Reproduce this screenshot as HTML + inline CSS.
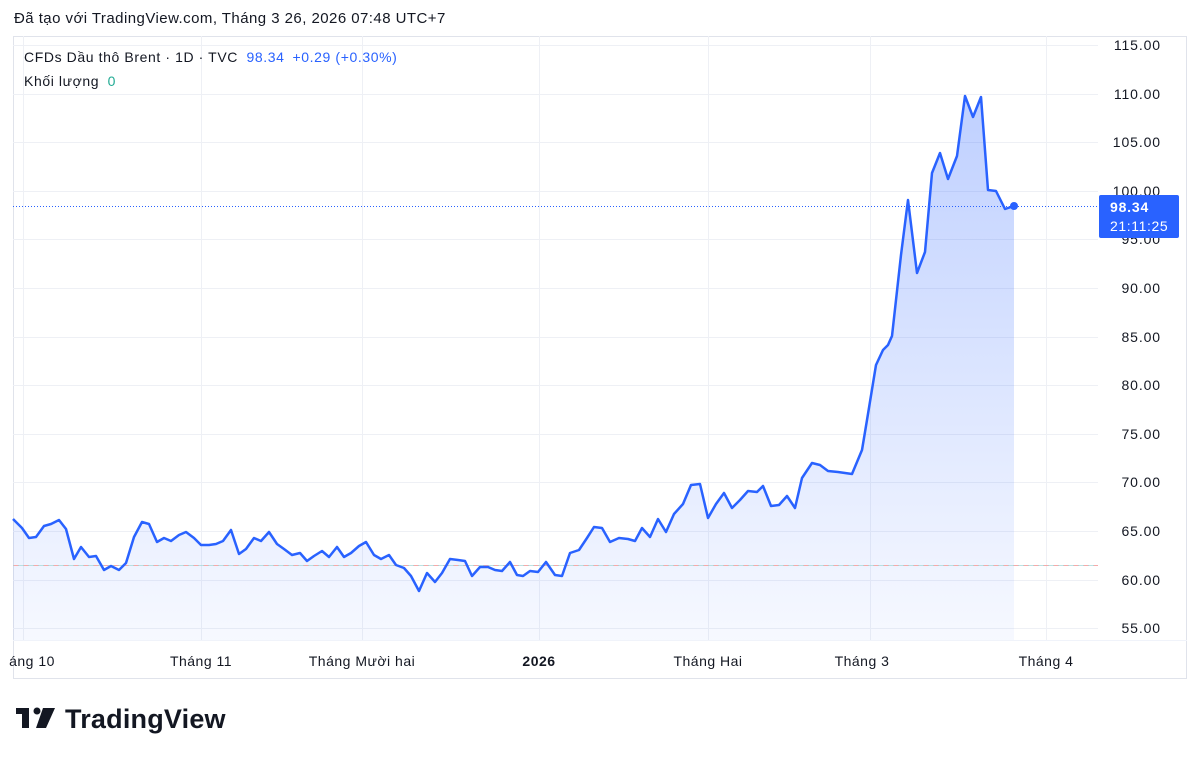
<!DOCTYPE html>
<html><head><meta charset="utf-8"><style>
body{margin:0;background:#fff;width:1200px;height:759px;overflow:hidden;font-family:"Liberation Sans",sans-serif;}
</style></head><body>
<svg width="1200" height="759" xmlns="http://www.w3.org/2000/svg" font-family="Liberation Sans, sans-serif">
<defs><linearGradient id="g" x1="0" y1="0" x2="0" y2="1">
<stop offset="0" stop-color="#2962ff" stop-opacity="0.3"/><stop offset="1" stop-color="#2962ff" stop-opacity="0.04"/></linearGradient></defs>
<text x="14" y="23" font-size="15" letter-spacing="0.45" fill="#131722">Đã tạo với TradingView.com, Tháng 3 26, 2026 07:48 UTC+7</text>
<rect x="13.5" y="36.5" width="1173" height="642" fill="none" stroke="#e0e3eb"/>
<line x1="13" y1="640.5" x2="1187" y2="640.5" stroke="#f0f3fa"/>
<g stroke="#eef0f5">
<line x1="13" x2="1098" y1="45.5" y2="45.5"/><line x1="13" x2="1098" y1="94.5" y2="94.5"/><line x1="13" x2="1098" y1="142.5" y2="142.5"/><line x1="13" x2="1098" y1="191.5" y2="191.5"/><line x1="13" x2="1098" y1="239.5" y2="239.5"/><line x1="13" x2="1098" y1="288.5" y2="288.5"/><line x1="13" x2="1098" y1="337.5" y2="337.5"/><line x1="13" x2="1098" y1="385.5" y2="385.5"/><line x1="13" x2="1098" y1="434.5" y2="434.5"/><line x1="13" x2="1098" y1="482.5" y2="482.5"/><line x1="13" x2="1098" y1="531.5" y2="531.5"/><line x1="13" x2="1098" y1="580.5" y2="580.5"/><line x1="13" x2="1098" y1="628.5" y2="628.5"/>
<line x1="23.5" x2="23.5" y1="36" y2="640"/><line x1="201.5" x2="201.5" y1="36" y2="640"/><line x1="362.5" x2="362.5" y1="36" y2="640"/><line x1="539.5" x2="539.5" y1="36" y2="640"/><line x1="708.5" x2="708.5" y1="36" y2="640"/><line x1="870.5" x2="870.5" y1="36" y2="640"/><line x1="1046.5" x2="1046.5" y1="36" y2="640"/>
</g>
<polygon fill="url(#g)" points="13,519 22,528 29,538 36,537 44,526 51,524 59,520 66,529 74,559 81,547 89,557 96,556 104,570 111,566 119,570 126,563 134,537 142,522 149,524 157,542 164,538 171,541 179,535 186,532 194,538 201,545 209,545 216,544 223,541 231,530 239,554 246,549 254,538 261,541 269,532 277,544 284,549 292,555 300,553 307,561 314,556 322,551 329,557 337,547 344,557 351,553 359,546 366,542 374,555 381,559 389,555 396,565 404,568 411,576 419,591 427,573 435,582 442,573 450,559 458,560 465,561 472,576 480,567 488,567 495,570 502,571 510,562 517,575 523,576 530,571 538,572 546,562 555,575 562,576 570,553 579,550 587,538 594,527 602,528 610,542 619,538 628,539 635,541 642,528 650,537 658,519 666,532 674,514 683,504 691,485 700,484 708,518 716,504 724,493 732,508 740,500 748,491 757,492 763,486 771,506 779,505 787,496 795,508 802,478 812,463 820,465 828,471 838,472 852,474 862,450 867,420 876,365 883,350 888,345 892,336 901,255 908,200 917,273 925,252 932,173 940,153 948,179 957,156 965,96 973,117 981,97 988,190 996,191 1005,209 1014,206 1014,640 13,640"/>
<line x1="13" x2="1098" y1="565.5" y2="565.5" stroke="#f7a9a9" stroke-dasharray="6,4"/>
<line x1="13" x2="1098" y1="565.5" y2="565.5" stroke="#9fd8d8" stroke-dasharray="6,4" stroke-dashoffset="5" opacity="0.7"/>
<line x1="13" x2="1100" y1="206.5" y2="206.5" stroke="#2962ff" stroke-dasharray="1,2"/>
<polyline fill="none" stroke="#2962ff" stroke-width="2.5" stroke-linejoin="round" points="13,519 22,528 29,538 36,537 44,526 51,524 59,520 66,529 74,559 81,547 89,557 96,556 104,570 111,566 119,570 126,563 134,537 142,522 149,524 157,542 164,538 171,541 179,535 186,532 194,538 201,545 209,545 216,544 223,541 231,530 239,554 246,549 254,538 261,541 269,532 277,544 284,549 292,555 300,553 307,561 314,556 322,551 329,557 337,547 344,557 351,553 359,546 366,542 374,555 381,559 389,555 396,565 404,568 411,576 419,591 427,573 435,582 442,573 450,559 458,560 465,561 472,576 480,567 488,567 495,570 502,571 510,562 517,575 523,576 530,571 538,572 546,562 555,575 562,576 570,553 579,550 587,538 594,527 602,528 610,542 619,538 628,539 635,541 642,528 650,537 658,519 666,532 674,514 683,504 691,485 700,484 708,518 716,504 724,493 732,508 740,500 748,491 757,492 763,486 771,506 779,505 787,496 795,508 802,478 812,463 820,465 828,471 838,472 852,474 862,450 867,420 876,365 883,350 888,345 892,336 901,255 908,200 917,273 925,252 932,173 940,153 948,179 957,156 965,96 973,117 981,97 988,190 996,191 1005,209 1014,206"/>
<circle cx="1014" cy="206" r="4" fill="#2962ff"/>
<g font-size="14" letter-spacing="0.9" fill="#131722" text-anchor="end">
<text x="1161" y="50">115.00</text><text x="1161" y="99">110.00</text><text x="1161" y="147">105.00</text><text x="1161" y="196">100.00</text><text x="1161" y="244">95.00</text><text x="1161" y="293">90.00</text><text x="1161" y="342">85.00</text><text x="1161" y="390">80.00</text><text x="1161" y="439">75.00</text><text x="1161" y="487">70.00</text><text x="1161" y="536">65.00</text><text x="1161" y="585">60.00</text><text x="1161" y="633">55.00</text>
</g>
<rect x="1099" y="195" width="80" height="43" rx="2" fill="#2962ff"/>
<text x="1110" y="212" font-size="14" letter-spacing="0.8" font-weight="bold" fill="#fff">98.34</text>
<text x="1110" y="231" font-size="14" letter-spacing="0.6" fill="#fff">21:11:25</text>
<g font-size="14" letter-spacing="0.5" fill="#131722" text-anchor="middle">
<text x="32" y="666">áng 10</text><text x="201" y="666">Tháng 11</text><text x="362" y="666">Tháng Mười hai</text><text x="539" y="666" font-weight="bold">2026</text><text x="708" y="666">Tháng Hai</text><text x="862" y="666">Tháng 3</text><text x="1046" y="666">Tháng 4</text>
</g>
<text x="24" y="62" font-size="14" letter-spacing="0.6" fill="#131722">CFDs Dầu thô Brent · 1D · TVC <tspan fill="#2962ff" dx="4">98.34</tspan><tspan fill="#2962ff" dx="8">+0.29 (+0.30%)</tspan></text>
<text x="24" y="86" font-size="14" letter-spacing="0.6" fill="#131722">Khối lượng <tspan fill="#22ab94" dx="4">0</tspan></text>
<g fill="#131722">
<rect x="16" y="708" width="13" height="6"/><rect x="22" y="708" width="7" height="20"/><circle cx="37" cy="711" r="3.5"/><polygon points="43,708 55,708 46,728 36,728"/>
<text x="65" y="728" font-size="27" font-weight="bold" letter-spacing="0.2">TradingView</text>
</g>
</svg>
</body></html>
